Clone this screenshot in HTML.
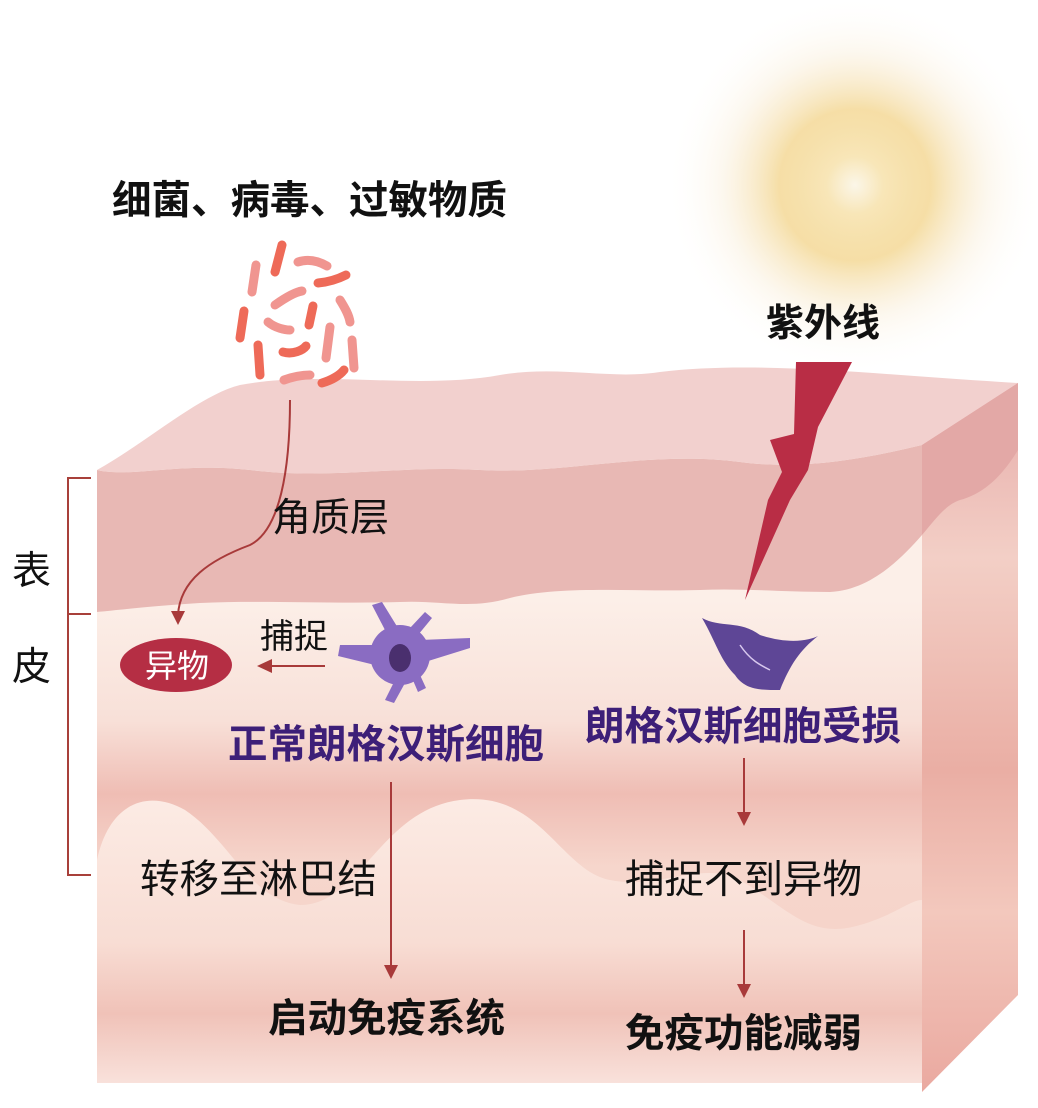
<!DOCTYPE html>
<html><head><meta charset="utf-8"><style>
html,body{margin:0;padding:0;background:#fff;}
svg{display:block;}
text{font-family:"Liberation Sans","Noto Sans CJK SC",sans-serif;}
</style></head><body>
<svg width="1038" height="1108" viewBox="0 0 1038 1108" xmlns="http://www.w3.org/2000/svg">
<defs>
<radialGradient id="sun" cx="855" cy="185" r="190" gradientUnits="userSpaceOnUse">
<stop offset="0" stop-color="#fbf6e8"/>
<stop offset="0.15" stop-color="#f8e6b8"/>
<stop offset="0.4" stop-color="#f3d690" stop-opacity="0.8"/>
<stop offset="0.7" stop-color="#f8ead0" stop-opacity="0.35"/>
<stop offset="1" stop-color="#ffffff" stop-opacity="0"/>
</radialGradient>
<linearGradient id="front" x1="0" y1="600" x2="0" y2="1085" gradientUnits="userSpaceOnUse">
<stop offset="0" stop-color="#fcefe8"/>
<stop offset="0.25" stop-color="#f8e0d8"/>
<stop offset="0.4" stop-color="#efbdb4"/>
<stop offset="0.55" stop-color="#f6d6cc"/>
<stop offset="0.8" stop-color="#f5d2c8"/>
<stop offset="1" stop-color="#fbe6e0"/>
</linearGradient>
<linearGradient id="lower" x1="0" y1="800" x2="0" y2="1085" gradientUnits="userSpaceOnUse">
<stop offset="0" stop-color="#fcebe4"/>
<stop offset="0.5" stop-color="#f8ddd4"/>
<stop offset="0.75" stop-color="#f0c2b8"/>
<stop offset="1" stop-color="#f9e2dc"/>
</linearGradient>
<linearGradient id="side" x1="0" y1="380" x2="0" y2="1090" gradientUnits="userSpaceOnUse">
<stop offset="0" stop-color="#e6aaa8"/>
<stop offset="0.25" stop-color="#f3cfc6"/>
<stop offset="0.55" stop-color="#eaaea4"/>
<stop offset="0.75" stop-color="#f3c8bd"/>
<stop offset="1" stop-color="#eaa9a0"/>
</linearGradient>
</defs>
<rect width="1038" height="1108" fill="#fff"/>
<circle cx="855" cy="185" r="190" fill="url(#sun)"/>

<path d="M97 470 C 150 440 200 395 240 385 C 320 370 420 390 500 375 C 560 365 610 380 660 372 C 760 360 880 375 1018 383 L 922 445 C 860 460 800 470 740 462 C 650 450 560 475 480 470 C 400 465 330 480 250 470 C 180 462 130 478 97 470 Z" fill="#f2d0ce"/>
<path d="M97 470 C 130 478 180 462 250 470 C 330 480 400 465 480 470 C 560 475 650 450 740 462 C 800 470 860 460 922 445 L 922 1083 L 97 1083 Z" fill="url(#front)"/>
<path d="M97 1083 L97 860 C 110 800 150 790 185 810 C 230 840 250 900 300 905 C 360 905 380 810 460 800 C 540 790 560 870 610 880 C 660 890 700 860 740 880 C 790 910 810 940 860 925 C 895 915 910 900 922 900 L 922 1083 Z" fill="url(#lower)"/>
<path d="M97 470 C 130 478 180 462 250 470 C 330 480 400 465 480 470 C 560 475 650 450 740 462 C 800 470 860 460 922 445 L 922 535 C 900 560 870 590 830 592 C 780 592 740 588 700 590 C 640 592 560 585 510 598 C 470 610 440 600 400 602 C 330 604 260 600 200 603 C 150 606 120 610 97 612 Z" fill="#e8b8b4"/>
<path d="M922 445 L1018 383 L1018 995 L922 1092 Z" fill="url(#side)"/>
<path d="M922 445 L1018 383 L1018 450 C 1000 480 980 495 960 500 C 945 505 935 520 922 535 Z" fill="#e3a8a6"/>

<g stroke-linecap="round" fill="none" stroke-width="9">
<path d="M282 245 L275 272" stroke="#ee6a58"/>
<path d="M298 262 C 310 258 320 262 327 266" stroke="#f09590"/>
<path d="M256 265 L252 292" stroke="#f09590"/>
<path d="M318 283 C 330 282 340 278 346 275" stroke="#ee6a58"/>
<path d="M275 305 C 285 298 295 292 302 291" stroke="#f09590"/>
<path d="M244 311 L240 338" stroke="#ee6a58"/>
<path d="M268 322 C 275 328 285 330 290 330" stroke="#f09590"/>
<path d="M313 306 L309 325" stroke="#ee6a58"/>
<path d="M340 300 C 345 308 349 315 350 322" stroke="#f09590"/>
<path d="M258 345 L260 375" stroke="#ee6a58"/>
<path d="M283 352 C 293 355 303 350 306 346" stroke="#ee6a58"/>
<path d="M330 327 L326 358" stroke="#f09590"/>
<path d="M352 340 L354 368" stroke="#f09590"/>
<path d="M284 380 C 295 376 305 375 310 375" stroke="#f09590"/>
<path d="M322 383 C 332 380 340 375 344 370" stroke="#ee6a58"/>
</g>

<path d="M796 362 L852 362 L818 427 L808 470 L790 500 L745 600 L768 500 L782 472 L770 440 L794 434 Z" fill="#b92d45"/>

<path d="M290 400 C 290 470 280 530 250 545 C 210 560 180 580 178 615" stroke="#a83a3a" stroke-width="2" fill="none"/>
<path d="M171 611 L185 611 L178 625 Z" fill="#a83a3a"/>

<path d="M91 478 L68 478 L68 875 L91 875 M68 614 L91 614" stroke="#a8403a" stroke-width="2" fill="none"/>

<ellipse cx="176" cy="665" rx="56" ry="27" fill="#b52e44"/>
<text x="177" y="677" font-size="32" fill="#fff" text-anchor="middle">异物</text>
<line x1="270" y1="666" x2="325" y2="666" stroke="#a83a3a" stroke-width="2"/>
<path d="M257 666 L272 659 L272 673 Z" fill="#a83a3a"/>

<g fill="#8a6cc2">
<ellipse cx="400" cy="655" rx="30" ry="30"/>
<path d="M372 645 L340 645 L338 656 L375 665 Z"/>
<path d="M420 640 L470 638 L470 648 L425 662 Z"/>
<path d="M385 630 L372 605 L382 602 L398 628 Z"/>
<path d="M410 628 L425 612 L432 618 L418 635 Z"/>
<path d="M395 680 L385 700 L394 703 L405 683 Z"/>
<path d="M412 678 L418 692 L426 688 L420 675 Z"/>
</g>
<ellipse cx="400" cy="658" rx="11" ry="14" fill="#4a2f6e"/>

<g fill="#5e4696">
<path d="M702 618 C 720 628 740 620 760 635 C 790 645 810 640 818 636 C 800 650 790 665 780 690 C 760 690 745 690 735 675 C 720 660 715 640 702 618 Z"/>
</g>
<path d="M740 645 C 750 660 760 665 770 670" stroke="#d8c8ee" stroke-width="1.5" fill="none"/>

<text x="112" y="214" font-size="39.5" font-weight="bold" fill="#111">细菌、病毒、过敏物质</text>
<text x="766" y="336" font-size="38" font-weight="bold" fill="#111">紫外线</text>
<text x="272" y="531" font-size="39" fill="#111">角质层</text>
<text x="260" y="648" font-size="34" fill="#111">捕捉</text>
<text x="12" y="584" font-size="39" fill="#111">表</text>
<text x="12" y="680" font-size="39" fill="#111">皮</text>
<text x="228" y="758" font-size="39.5" font-weight="bold" fill="#3d1f78">正常朗格汉斯细胞</text>
<text x="585" y="740" font-size="39.5" font-weight="bold" fill="#3d1f78">朗格汉斯细胞受损</text>
<text x="140" y="893" font-size="39.5" fill="#111">转移至淋巴结</text>
<text x="625" y="893" font-size="39.5" fill="#111">捕捉不到异物</text>
<text x="268" y="1032" font-size="39.5" font-weight="bold" fill="#111">启动免疫系统</text>
<text x="625" y="1047" font-size="39.5" font-weight="bold" fill="#111">免疫功能减弱</text>

<g stroke="#a83a3a" stroke-width="2">
<line x1="391" y1="782" x2="391" y2="968"/>
<line x1="744" y1="758" x2="744" y2="814"/>
<line x1="744" y1="930" x2="744" y2="986"/>
</g>
<g fill="#a83a3a">
<path d="M384 965 L398 965 L391 979 Z"/>
<path d="M737 812 L751 812 L744 826 Z"/>
<path d="M737 984 L751 984 L744 998 Z"/>
</g>
</svg>
</body></html>
